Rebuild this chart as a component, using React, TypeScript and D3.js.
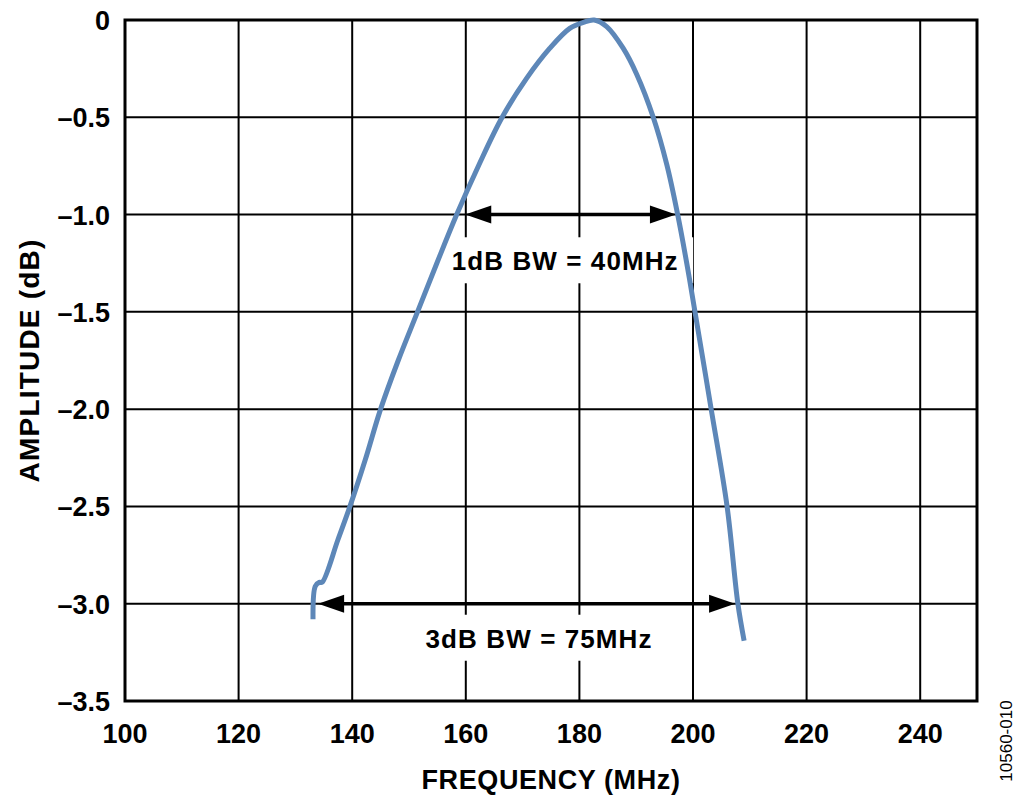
import React from "react";
import * as d3 from "d3";

// frequency (MHz) and amplitude (dB)
const freq = [133.1, 133.5, 134.2, 134.7, 137.5, 139.6, 142.3, 145.0, 148.1, 151.5, 154.9, 158.4, 162.3, 166.4, 170.7, 174.8, 178.3, 180.7, 182.6, 184.8, 187.7, 190.1, 193.0, 195.4, 197.3, 198.9, 200.35, 203.2, 206.0, 207.9, 209.0];
const amp = [-3.08, -2.91, -2.89, -2.89, -2.67, -2.5, -2.26, -2.0, -1.75, -1.5, -1.25, -1.0, -0.745, -0.5, -0.3, -0.145, -0.043, -0.012, 0, -0.034, -0.145, -0.28, -0.5, -0.745, -1.0, -1.25, -1.5, -2.0, -2.5, -3.0, -3.19];

const xTicks = [100, 120, 140, 160, 180, 200, 220, 240];
const yTicks = [0, -0.5, -1.0, -1.5, -2.0, -2.5, -3.0, -3.5];

// bandwidth markers: level, arrow from/to, label and label anchor
const bwLevels = [-1, -3];
const bwFrom = [159.9, 134.0];
const bwTo = [197.0, 207.4];
const bwLabels = ["1dB BW = 40MHz", "3dB BW = 75MHz"];
const bwLabelF = [177.5, 172.9];
const bwLabelV = [-1.24, -3.18];

const W = 1024;
const H = 804;
const margin = { left: 125, right: 47, top: 20, bottom: 103 };
const font = "Arial, 'Liberation Sans', sans-serif";
const curveColor = "#5d87b8";

const fmtY = (v: number) => (v === 0 ? "0" : "\u2013" + Math.abs(v).toFixed(1));

const App = () => {
  const x = d3.scaleLinear().domain([100, 250]).range([margin.left, W - margin.right]);
  const y = d3.scaleLinear().domain([-3.5, 0]).range([H - margin.bottom, margin.top]);

  const pts = freq.map((f, i) => [f, amp[i]] as [number, number]);
  const line = d3
    .line<[number, number]>()
    .x((d) => x(d[0]))
    .y((d) => y(d[1]))
    .curve(d3.curveCatmullRom.alpha(0.5));

  const arrowHead = (tipX: number, tipY: number, dir: number) => {
    const len = 26;
    const half = 9;
    return `M${tipX},${tipY} L${tipX - dir * len},${tipY - half} L${tipX - dir * len},${tipY + half} Z`;
  };

  return (
    <svg width={W} height={H} style={{ position: "absolute", left: 0, top: 0, background: "#fff" }} fontFamily={font}>
      {/* grid */}
      {xTicks.slice(1).map((t) => (
        <line key={"gx" + t} x1={x(t)} x2={x(t)} y1={y(0)} y2={y(-3.5)} stroke="#000" strokeWidth={2} />
      ))}
      {yTicks.slice(1, -1).map((t) => (
        <line key={"gy" + t} x1={x(100)} x2={x(250)} y1={y(t)} y2={y(t)} stroke="#000" strokeWidth={2} />
      ))}

      {/* label backgrounds break the grid */}
      {bwLabels.map((l, i) => (
        <rect key={"bg" + i} x={x(bwLabelF[i]) - 128} y={y(bwLabelV[i]) - 24} width={256} height={46} fill="#fff" />
      ))}

      {/* bandwidth arrows */}
      {bwLevels.map((lv, i) => {
        const yy = y(lv);
        const x1 = x(bwFrom[i]);
        const x2 = x(bwTo[i]);
        return (
          <g key={"bw" + i}>
            <line x1={x1 + 20} x2={x2 - 20} y1={yy} y2={yy} stroke="#000" strokeWidth={3.5} />
            <path d={arrowHead(x1, yy, -1)} fill="#000" />
            <path d={arrowHead(x2, yy, 1)} fill="#000" />
          </g>
        );
      })}
      {bwLabels.map((l, i) => (
        <text
          key={"bl" + i}
          x={x(bwLabelF[i])}
          y={y(bwLabelV[i]) + 9}
          textAnchor="middle"
          fontSize={26}
          fontWeight="bold"
          letterSpacing={1.1}
        >
          {l}
        </text>
      ))}

      {/* frame */}
      <rect x={x(100)} y={y(0)} width={x(250) - x(100)} height={y(-3.5) - y(0)} fill="none" stroke="#000" strokeWidth={3} />

      {/* curve */}
      <path d={line(pts) || ""} fill="none" stroke={curveColor} strokeWidth={5} strokeLinejoin="round" />

      {/* tick labels */}
      {yTicks.map((t) => (
        <text key={"yt" + t} x={110} y={y(t) + 10} textAnchor="end" fontSize={27} fontWeight="bold">
          {fmtY(t)}
        </text>
      ))}
      {xTicks.map((t) => (
        <text key={"xt" + t} x={x(t)} y={743} textAnchor="middle" fontSize={27} fontWeight="bold">
          {t}
        </text>
      ))}

      {/* axis titles */}
      <text x={551} y={789} textAnchor="middle" fontSize={27} fontWeight="bold" letterSpacing={0.6}>
        FREQUENCY (MHz)
      </text>
      <text
        transform={`translate(39,${(y(0) + y(-3.5)) / 2}) rotate(-90)`}
        textAnchor="middle"
        fontSize={28}
        fontWeight="bold"
        letterSpacing={1.2}
      >
        AMPLITUDE (dB)
      </text>
      <text transform="translate(1012,741) rotate(-90)" textAnchor="middle" fontSize={17}>
        10560-010
      </text>
    </svg>
  );
};

export default App;
